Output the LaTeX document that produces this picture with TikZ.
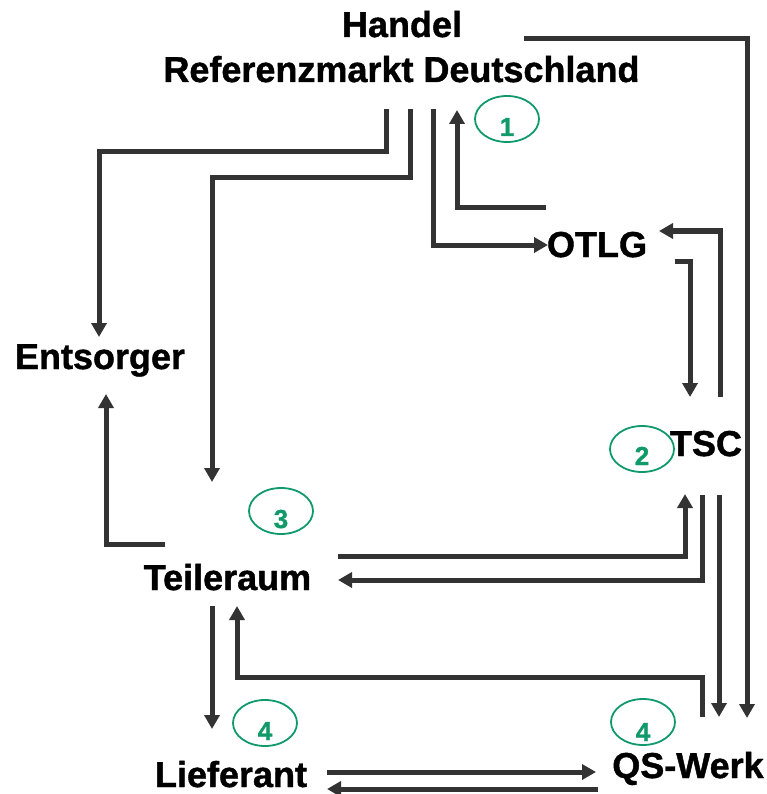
\documentclass[tikz,border=0pt]{standalone}
\usepackage{fontspec}
\setmainfont{Liberation Sans}
\newfontfamily\heavy[FakeBold=1.2]{Liberation Sans Bold}
\usetikzlibrary{arrows.meta,shapes.geometric}
\definecolor{linegray}{HTML}{333333}
\definecolor{numgreen}{HTML}{109A6A}
\tikzset{
  lbl/.style={anchor=base,inner sep=0pt,font=\fontsize{36}{40}\selectfont\heavy},
  conn/.style={draw=linegray,line width=5pt},
  arr/.style={conn,-{Triangle[length=14pt,width=15pt]}},
  badge/.style={ellipse,draw=numgreen,line width=1.8pt,minimum width=64pt,minimum height=46pt,inner sep=0pt},
  num/.style={anchor=base,inner sep=0pt,text=numgreen,font=\fontsize{26}{28}\selectfont\heavy}
}
\begin{document}
\begin{tikzpicture}[x=1pt,y=-1pt]
\useasboundingbox (0,0) rectangle (767,794);
% labels
\node[lbl] (handel) at (402,37) {Handel};
\node[lbl] (ref) at (401.5,82) {Referenzmarkt Deutschland};
\node[lbl] (otlg) at (597,257) {OTLG};
\node[lbl] (ents) at (100,369) {Entsorger};
\node[lbl] (tsc) at (706,456) {TSC};
\node[lbl] (teil) at (227.5,590) {Teileraum};
\node[lbl] (lief) at (231,787) {Lieferant};
\node[lbl] (qs) at (688,778) {QS-Werk};
% badges
\node[badge] (b1) at (507,119) {};
\node[num] (n1) at (507,136) {1};
\node[badge] (b2) at (642,449) {};
\node[num] (n2) at (642,465) {2};
\node[badge] (b3) at (281,511) {};
\node[num] (n3) at (281,528) {3};
\node[badge] (b4a) at (265,723) {};
\node[num] (n4a) at (265,740) {4};
\node[badge] (b4b) at (643,722) {};
\node[num] (n4b) at (643,741) {4};
% connector end points
\coordinate (hq0) at (524,39);   \coordinate (hq1) at (747,718);
\coordinate (re0) at (386,109);  \coordinate (re1) at (386,152); \coordinate (re2) at (99,337);
\coordinate (rt0) at (410,109);  \coordinate (rt1) at (410,178); \coordinate (rt2) at (212,482);
\coordinate (ro0) at (433,109);  \coordinate (ro1) at (548,245);
\coordinate (or0) at (546,208);  \coordinate (or1) at (457,110);
\coordinate (to0) at (720,397);  \coordinate (to1) at (659,231);
\coordinate (ot0) at (675,261);  \coordinate (ot1) at (690,397);
\coordinate (tt0) at (338,556);  \coordinate (tt1) at (685,494);
\coordinate (st0) at (702,495);  \coordinate (st1) at (702,580); \coordinate (st2) at (338,580);
\coordinate (sq0) at (719,495);  \coordinate (sq1) at (719,717);
\coordinate (qt0) at (702,717);  \coordinate (qt1) at (702,677); \coordinate (qt2) at (237,606);
\coordinate (tl0) at (212,606);  \coordinate (tl1) at (212,729);
\coordinate (te0) at (165,544);  \coordinate (te1) at (106,394);
\coordinate (lq0) at (327,772);  \coordinate (lq1) at (596,772);
\coordinate (ql0) at (598,789);  \coordinate (ql1) at (327,789);
% connectors
\draw[arr] (hq0) -| (hq1);
\draw[arr] (re0) -- (re1) -| (re2);
\draw[arr] (rt0) -- (rt1) -| (rt2);
\draw[arr] (ro0) |- (ro1);
\draw[arr] (or0) -| (or1);
\draw[arr] (to0) |- (to1);
\draw[arr] (ot0) -| (ot1);
\draw[arr] (tt0) -| (tt1);
\draw[arr] (st0) -- (st1) -- (st2);
\draw[arr] (sq0) -- (sq1);
\draw[arr] (qt0) -- (qt1) -| (qt2);
\draw[arr] (tl0) -- (tl1);
\draw[arr] (te0) -| (te1);
\draw[arr] (lq0) -- (lq1);
\draw[arr] (ql0) -- (ql1);
\end{tikzpicture}
\end{document}
